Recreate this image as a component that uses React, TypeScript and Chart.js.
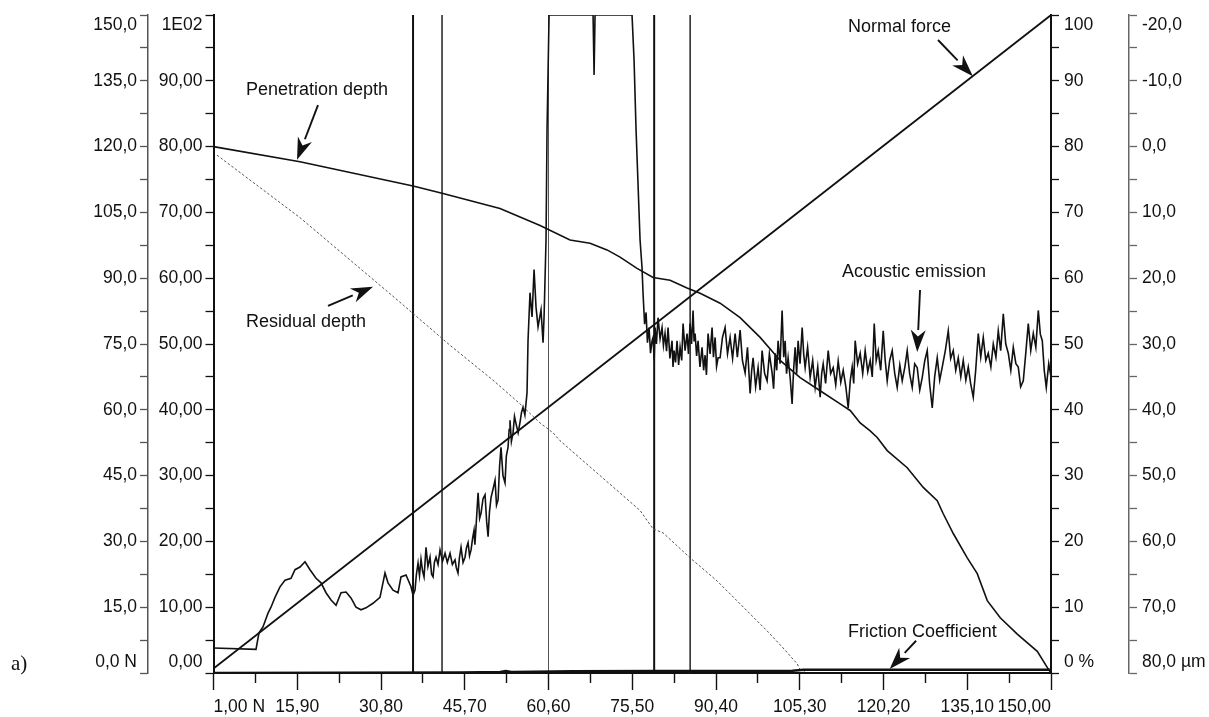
import React, { useEffect, useRef } from 'react';
import { Chart, registerables } from 'chart.js';

Chart.register(...registerables);

// ---------- tick values & labels ----------
const xTickValues = [1, 8.45, 15.9, 23.35, 30.8, 38.25, 45.7, 53.15, 60.6, 68.05, 75.5, 82.95, 90.4, 97.85, 105.3, 112.75, 120.2, 127.65, 135.1, 142.55, 150];
const xTickLabels = ['1,00 N', '15,90', '30,80', '45,70', '60,60', '75,50', '90,40', '105,30', '120,20', '135,10', '150,00'];

const forceTickValues = [0, 7.5, 15, 22.5, 30, 37.5, 45, 52.5, 60, 67.5, 75, 82.5, 90, 97.5, 105, 112.5, 120, 127.5, 135, 142.5, 150];
const forceTickLabels = ['0,0 N', '15,0', '30,0', '45,0', '60,0', '75,0', '90,0', '105,0', '120,0', '135,0', '150,0'];

const aeTickValues = [0, 5, 10, 15, 20, 25, 30, 35, 40, 45, 50, 55, 60, 65, 70, 75, 80, 85, 90, 95, 100];
const aeTickLabels = ['0,00', '10,00', '20,00', '30,00', '40,00', '50,00', '60,00', '70,00', '80,00', '90,00', '1E02'];

const pctTickValues = [0, 5, 10, 15, 20, 25, 30, 35, 40, 45, 50, 55, 60, 65, 70, 75, 80, 85, 90, 95, 100];
const pctTickLabels = ['0 %', '10', '20', '30', '40', '50', '60', '70', '80', '90', '100'];

const depthTickValues = [-20, -15, -10, -5, 0, 5, 10, 15, 20, 25, 30, 35, 40, 45, 50, 55, 60, 65, 70, 75, 80];
const depthTickLabels = ['-20,0', '-10,0', '0,0', '10,0', '20,0', '30,0', '40,0', '50,0', '60,0', '70,0', '80,0 µm'];

// ---------- series (x = load in N) ----------
const normalForce: [number, number][] = [[1, 1], [150, 150]];

const penetrationDepth: [number, number][] = [
  [1, 0], [16.39, 2.3], [36.5, 6.0], [41.66, 7.1], [51.97, 9.4], [59.1, 12.0], [64.43, 14.2], [67.99, 14.7],
  [71.01, 15.7], [73.33, 16.8], [76.35, 18.5], [79.21, 19.9], [82.23, 20.3], [85.25, 21.5], [87.57, 22.3],
  [91.13, 23.8], [94.69, 26.0], [98.25, 29.0], [101.81, 32.5], [105.37, 35.1], [108.93, 37.1], [112.49, 39.1],
  [114.27, 40.1], [116.05, 42.0], [117.83, 43.2], [119.08, 44.2], [120.86, 46.2], [124.42, 48.8], [127.27, 51.8],
  [129.76, 53.8], [130.83, 55.8], [132.61, 58.8], [135.1, 62.5], [136.88, 64.9], [138.66, 69.0], [140.97, 71.6],
  [144.0, 74.1], [147.56, 76.7], [149.52, 79.4], [150, 80]
];

const residualDepth: [number, number][] = [
  [1.62, 1.3], [16.39, 10.8], [33.83, 23.4], [43.08, 30.2], [50.73, 35.5], [55.53, 39.1], [59.1, 42.0],
  [61.41, 43.5], [62.65, 44.7], [76.89, 55.3], [79.21, 58.1], [80.98, 58.7], [85.79, 62.5], [90.58, 66.0],
  [94.69, 69.5], [99.49, 73.6], [102.34, 76.2], [104.84, 78.6], [105.37, 79.5], [106.5, 79.8]
];

const acousticEmission: [number, number][] = [
  [1.0, 3.8], [8.56, 3.6], [9.09, 6.1], [9.8, 7.0], [10.7, 9.1], [11.23, 10.0], [11.94, 11.5], [12.83, 13.1],
  [13.72, 14.1], [14.79, 14.4], [15.5, 15.7], [16.39, 16.1], [17.28, 16.9], [18.17, 15.7], [19.24, 14.4],
  [20.13, 13.7], [21.02, 12.2], [21.91, 11.1], [22.8, 10.3], [23.69, 12.2], [24.58, 12.3], [25.46, 11.4],
  [26.35, 10.0], [27.24, 9.6], [28.13, 9.9], [29.38, 10.6], [30.62, 11.5], [31.51, 15.2], [32.05, 13.7],
  [32.94, 12.6], [33.83, 12.2], [34.36, 14.6], [35.25, 14.9], [36.14, 13.1], [36.5, 11.8], [36.85, 12.6],
  [37.1, 15.0], [37.39, 16.7], [37.65, 14.8], [37.92, 17.3], [38.2, 15.5], [38.46, 14.6], [38.65, 17.0],
  [38.81, 19.1], [39.15, 16.2], [39.52, 17.6], [39.8, 15.0], [40.06, 14.6], [40.3, 16.8], [40.59, 17.6],
  [40.95, 16.5], [41.3, 18.7], [41.75, 17.0], [42.19, 18.2], [42.6, 16.8], [43.08, 18.2], [43.5, 16.5],
  [43.97, 17.2], [44.2, 16.0], [44.5, 15.2], [44.75, 17.5], [45.04, 19.1], [45.4, 16.8], [45.75, 17.6],
  [46.0, 19.0], [46.29, 19.8], [46.55, 17.8], [46.82, 18.7], [47.1, 20.5], [47.35, 21.7], [47.5, 19.5],
  [47.71, 22.2], [47.9, 25.0], [48.07, 27.4], [48.35, 23.5], [48.6, 24.3], [48.95, 26.5], [49.31, 27.1],
  [49.6, 23.0], [49.85, 20.7], [50.1, 24.5], [50.38, 26.7], [50.75, 28.0], [51.09, 29.3], [51.35, 25.5],
  [51.63, 26.3], [51.9, 31.5], [52.15, 34.3], [52.5, 30.0], [52.86, 28.9], [53.1, 33.0], [53.4, 34.3],
  [53.6, 37.0], [53.75, 38.4], [54.0, 35.2], [54.29, 36.5], [54.55, 39.0], [54.82, 37.9], [55.2, 36.5],
  [55.53, 38.1], [55.8, 39.6], [56.07, 40.4], [56.4, 39.2], [56.78, 42.6], [56.96, 50.6], [57.31, 57.8],
  [57.67, 54.1], [58.03, 61.3], [58.38, 55.6], [58.74, 52.6], [59.27, 55.2], [59.63, 50.2], [59.81, 54.1],
  [60.16, 65.8], [60.34, 82.5], [60.7, 100], [68.53, 100], [68.71, 90.9], [68.88, 100], [75.46, 100],
  [75.82, 93.2], [76.18, 82.5], [76.89, 65.8], [77.24, 61.6], [77.42, 57.7], [77.7, 53.0], [77.96, 54.8],
  [78.2, 50.2], [78.49, 52.5], [78.75, 48.6], [79.03, 50.5], [79.21, 51.0], [79.4, 47.5], [79.56, 52.5],
  [79.8, 50.0], [80.09, 54.0], [80.45, 50.8], [80.8, 52.5], [81.05, 49.8], [81.33, 51.6], [81.6, 48.9],
  [81.87, 52.5], [82.2, 47.8], [82.58, 50.5], [82.75, 46.5], [82.94, 49.0], [83.2, 47.2], [83.47, 50.5],
  [83.75, 46.8], [84.01, 49.5], [84.3, 47.5], [84.54, 53.1], [84.9, 49.0], [85.25, 51.6], [85.5, 48.5],
  [85.79, 53.1], [86.05, 50.0], [86.32, 55.1], [86.5, 50.4], [86.68, 51.6], [86.95, 48.2], [87.21, 50.5],
  [87.55, 46.5], [87.92, 49.5], [88.2, 46.0], [88.46, 48.3], [88.7, 45.3], [88.99, 51.6], [89.35, 48.5],
  [89.7, 52.5], [89.95, 48.0], [90.24, 51.0], [90.5, 46.6], [90.77, 47.9], [91.13, 47.9], [91.55, 51.0],
  [92.02, 52.5], [92.45, 48.5], [92.91, 51.0], [93.35, 47.8], [93.8, 51.6], [94.2, 48.0], [94.69, 52.1],
  [95.1, 47.5], [95.58, 45.6], [96.0, 49.5], [96.47, 42.5], [96.75, 46.0], [97.0, 47.9], [97.45, 43.5],
  [97.89, 46.4], [98.25, 43.0], [98.6, 49.0], [99.05, 45.5], [99.49, 44.4], [99.9, 48.5], [100.38, 45.6],
  [100.65, 43.2], [100.92, 48.6], [101.2, 46.0], [101.45, 50.5], [101.8, 47.0], [102.16, 55.1], [102.45, 48.0],
  [102.7, 50.5], [102.95, 45.5], [103.23, 47.9], [103.6, 44.8], [103.94, 40.9], [104.2, 46.0], [104.48, 49.5],
  [104.75, 45.5], [105.01, 50.5], [105.35, 47.0], [105.73, 52.5], [106.0, 48.5], [106.26, 46.4], [106.7, 49.5],
  [107.15, 44.9], [107.6, 47.5], [108.04, 43.4], [108.5, 46.5], [108.93, 41.9], [109.2, 45.5], [109.47, 47.0],
  [109.9, 44.0], [110.36, 49.0], [110.8, 45.5], [111.25, 46.4], [111.7, 43.8], [112.14, 47.4], [112.6, 44.2],
  [113.03, 46.0], [113.5, 43.5], [113.92, 40.3], [114.3, 44.5], [114.63, 46.5], [114.9, 44.0], [115.16, 50.5],
  [115.6, 47.0], [116.05, 48.6], [116.5, 45.5], [116.94, 49.0], [117.4, 45.8], [117.83, 47.5], [118.2, 45.0],
  [118.55, 53.1], [118.9, 47.5], [119.26, 49.0], [119.7, 46.0], [120.15, 52.0], [120.5, 47.5], [120.86, 44.4],
  [121.3, 47.5], [121.75, 49.0], [122.2, 45.5], [122.64, 43.4], [123.1, 46.8], [123.53, 44.4], [124.0, 46.5],
  [124.42, 49.0], [124.85, 45.5], [125.31, 43.4], [125.75, 47.0], [126.2, 46.4], [126.65, 43.0], [127.09, 44.9],
  [127.55, 47.5], [127.98, 49.0], [128.4, 44.0], [128.87, 40.3], [129.3, 45.0], [129.76, 47.9], [130.2, 44.5],
  [130.65, 46.5], [131.2, 49.0], [131.72, 52.0], [132.15, 47.8], [132.61, 49.0], [133.05, 46.0], [133.5, 47.9],
  [133.95, 45.0], [134.39, 47.5], [134.85, 44.5], [135.28, 46.5], [135.7, 44.0], [136.17, 41.9], [136.6, 46.0],
  [137.06, 51.6], [137.5, 48.0], [137.95, 51.0], [138.4, 47.5], [138.84, 48.6], [139.3, 46.5], [139.73, 50.0],
  [140.2, 48.0], [140.62, 52.0], [141.05, 49.0], [141.51, 54.6], [141.95, 50.0], [142.4, 48.6], [142.85, 46.0],
  [143.29, 49.5], [143.75, 47.0], [144.18, 46.5], [144.6, 43.5], [145.07, 44.4], [145.5, 48.5], [145.96, 53.1],
  [146.4, 49.0], [146.85, 51.6], [147.3, 49.5], [147.74, 55.1], [148.1, 51.5], [148.45, 50.5], [148.8, 46.0],
  [149.16, 43.4], [149.6, 47.0], [150, 45.0]
];

const frictionCoefficient: [number, number][] = [
  [1, 0], [45, 0.05], [52, 0.15], [53, 0.3], [54, 0.15], [58, 0.2], [65, 0.25], [80, 0.3], [95, 0.3],
  [104, 0.35], [106, 0.5], [120, 0.5], [135, 0.5], [150, 0.5]
];

const criticalLoads = [36.5, 41.66, 60.6, 79.4, 85.8];
const criticalWidths = [2, 1.5, 1, 2, 1.5];
const criticalColors = ['#111', '#222', '#555', '#111', '#222'];

// annotations (x in N, y on the acoustic-emission scale)
const notes = [
  { text: 'Penetration depth', tx: 6.78, ty: 88.6, from: [19.59, 86.3], to: [15.86, 78.0] },
  { text: 'Residual depth', tx: 6.78, ty: 53.3, from: [21.37, 55.8], to: [29.38, 58.7] },
  { text: 'Normal force', tx: 113.9, ty: 98.2, from: [129.9, 96.2], to: [136.1, 90.7] },
  { text: 'Acoustic emission', tx: 112.8, ty: 60.9, from: [126.7, 58.2], to: [126.2, 48.8] },
  { text: 'Friction Coefficient', tx: 113.9, ty: 6.2, from: [126.0, 4.9], to: [121.3, 0.6] }
];

const FONT = '"Liberation Sans", Arial, Helvetica, sans-serif';

function yLabel(labels: string[], index: number, count: number, topIsLast: boolean): string | string[] {
  if (index % 2) return '';
  const text = labels[index / 2];
  const isTop = topIsLast ? index === count - 1 : index === 0;
  const isBottom = topIsLast ? index === 0 : index === count - 1;
  if (isTop) return ['', text];
  if (isBottom) return [text, ''];
  return text;
}

function yScale(opts: {
  position: 'left' | 'right'; weight: number; width: number; min: number; max: number; values: number[];
  labels: string[]; reverse?: boolean; color: string; lineWidth: number; padding: number;
}) {
  const count = opts.values.length;
  return {
    type: 'linear',
    position: opts.position,
    weight: opts.weight,
    min: opts.min,
    max: opts.max,
    reverse: !!opts.reverse,
    afterBuildTicks: (scale: any) => { scale.ticks = opts.values.map((v) => ({ value: v })); },
    afterFit: (scale: any) => {
      scale.width = opts.width;
      scale.paddingTop = 0; scale.paddingBottom = 0; scale.paddingLeft = 0; scale.paddingRight = 0;
    },
    border: { display: true, color: opts.color, width: opts.lineWidth },
    grid: { drawOnChartArea: false, drawTicks: true, tickLength: 8, tickColor: opts.color, tickWidth: 1.3 },
    ticks: {
      autoSkip: false,
      padding: opts.padding,
      color: '#111',
      font: { family: FONT, size: 17.5, lineHeight: 1.2 },
      callback: (_v: any, index: number) => yLabel(opts.labels, index, count, !opts.reverse)
    }
  };
}

const toXY = (arr: [number, number][]) => arr.map(([x, y]) => ({ x, y }));

const notesPlugin = {
  id: 'notes',
  afterDatasetsDraw(chart: any) {
    const ctx = chart.ctx as CanvasRenderingContext2D;
    const xs = chart.scales.x;
    const ys = chart.scales.yAE;
    ctx.save();
    ctx.fillStyle = '#111';
    ctx.strokeStyle = '#111';
    ctx.font = `18px ${FONT}`;
    ctx.textBaseline = 'middle';
    ctx.textAlign = 'left';
    for (const n of notes) {
      ctx.fillText(n.text, xs.getPixelForValue(n.tx), ys.getPixelForValue(n.ty));
      const x1 = xs.getPixelForValue(n.from[0]);
      const y1 = ys.getPixelForValue(n.from[1]);
      const x2 = xs.getPixelForValue(n.to[0]);
      const y2 = ys.getPixelForValue(n.to[1]);
      const ang = Math.atan2(y2 - y1, x2 - x1);
      const headLen = 22;
      const headW = 7.5;
      const bx = x2 - headLen * Math.cos(ang);
      const by = y2 - headLen * Math.sin(ang);
      ctx.lineWidth = 1.9;
      ctx.beginPath();
      ctx.moveTo(x1, y1);
      ctx.lineTo(bx, by);
      ctx.stroke();
      ctx.beginPath();
      ctx.moveTo(x2, y2);
      ctx.lineTo(bx + headW * Math.sin(ang), by - headW * Math.cos(ang));
      ctx.lineTo(bx + 0.3 * headLen * Math.cos(ang), by + 0.3 * headLen * Math.sin(ang));
      ctx.lineTo(bx - headW * Math.sin(ang), by + headW * Math.cos(ang));
      ctx.closePath();
      ctx.fill();
    }
    ctx.font = `21px "Liberation Serif", "Times New Roman", serif`;
    ctx.fillText('a)', 11, 664);
    ctx.restore();
  }
};

export default function App() {
  const ref = useRef<HTMLCanvasElement | null>(null);

  useEffect(() => {
    if (!ref.current) return;
    const line = (data: any[], yAxisID: string, color: string, width: number, extra: any = {}) => ({
      type: 'line',
      data,
      yAxisID,
      xAxisID: 'x',
      borderColor: color,
      backgroundColor: color,
      borderWidth: width,
      pointRadius: 0,
      tension: 0,
      fill: false,
      ...extra
    });

    const datasets: any[] = [
      line(toXY(frictionCoefficient), 'yPct', '#111', 2.6),
      line(toXY(residualDepth), 'yDepth', '#555', 1, { borderDash: [2.5, 2] }),
      line(toXY(penetrationDepth), 'yDepth', '#111', 1.6),
      line(toXY(normalForce), 'yForce', '#111', 1.8),
      line(toXY(acousticEmission), 'yAE', '#111', 1.6, { borderJoinStyle: 'miter' }),
      ...criticalLoads.map((v, i) =>
        line([{ x: v, y: 0 }, { x: v, y: 100 }], 'yAE', criticalColors[i], criticalWidths[i])
      )
    ];

    const chart = new Chart(ref.current, {
      type: 'line',
      data: { datasets },
      plugins: [notesPlugin],
      options: {
        responsive: false,
        animation: false,
        devicePixelRatio: 1,
        parsing: false as any,
        layout: { padding: { left: 0, right: 0, top: 15, bottom: 0 } },
        plugins: { legend: { display: false }, tooltip: { enabled: false } },
        scales: {
          x: {
            type: 'linear',
            position: 'bottom',
            min: 1,
            max: 150,
            afterBuildTicks: (scale: any) => { scale.ticks = xTickValues.map((v) => ({ value: v })); },
            afterFit: (scale: any) => {
              scale.height = 44;
              scale.paddingLeft = 0; scale.paddingRight = 0; scale.paddingTop = 0; scale.paddingBottom = 0;
            },
            border: { display: true, color: '#111', width: 2 },
            grid: {
              drawOnChartArea: false,
              drawTicks: true,
              tickLength: 17,
              tickColor: '#111',
              tickWidth: 1.4,
              tickBorderDash: (ctx: any) => (ctx.index % 2 ? [9, 40] : [])
            },
            ticks: {
              autoSkip: false,
              maxRotation: 0,
              minRotation: 0,
              align: 'inner',
              padding: 7,
              color: '#111',
              font: { family: FONT, size: 17.5, lineHeight: 1.2 },
              callback: (_v: any, index: number) => (index % 2 ? '' : xTickLabels[index / 2])
            }
          } as any,
          yForce: yScale({ position: 'left', weight: 1, width: 148, min: 0, max: 150, values: forceTickValues, labels: forceTickLabels, color: '#555', lineWidth: 1.5, padding: 3 }) as any,
          yAE: yScale({ position: 'left', weight: 0, width: 65.5, min: 0, max: 100, values: aeTickValues, labels: aeTickLabels, color: '#111', lineWidth: 2, padding: 3 }) as any,
          yPct: yScale({ position: 'right', weight: 0, width: 78, min: 0, max: 100, values: pctTickValues, labels: pctTickLabels, color: '#111', lineWidth: 2, padding: 5 }) as any,
          yDepth: yScale({ position: 'right', weight: 1, width: 80, min: -20, max: 80, values: depthTickValues, labels: depthTickLabels, reverse: true, color: '#666', lineWidth: 1.5, padding: 5 }) as any
        }
      } as any
    });
    return () => chart.destroy();
  }, []);

  return (
    <div style={{ position: 'absolute', left: 0, top: 0, width: 1209, height: 717, background: '#fff' }}>
      <canvas ref={ref} width={1209} height={717} style={{ display: 'block', width: 1209, height: 717 }} />
    </div>
  );
}
